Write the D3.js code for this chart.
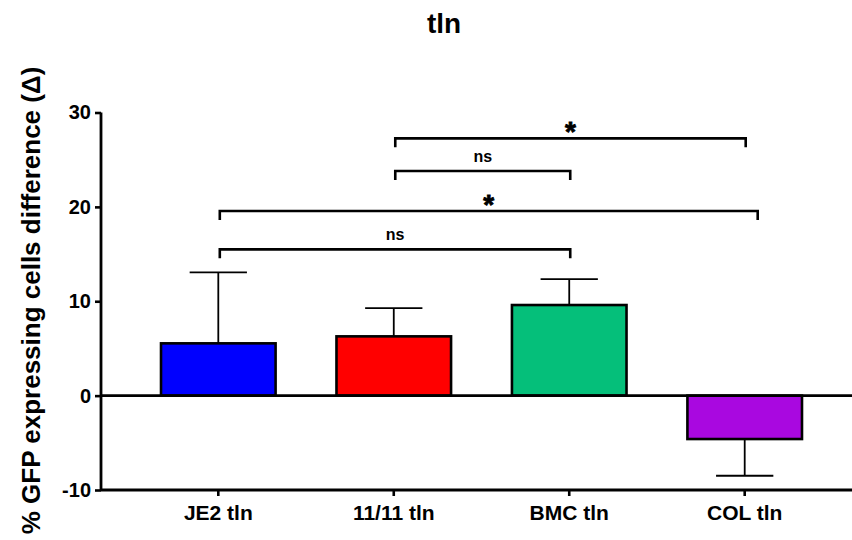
<!DOCTYPE html>
<html>
<head>
<meta charset="utf-8">
<script src="https://cdn.jsdelivr.net/npm/d3@7"></script>
<style>
  html, body { margin: 0; padding: 0; background: #fff; }
  svg { display: block; font-family: "Liberation Sans", Arial, sans-serif; }
</style>
</head>
<body>
<svg id="chart" width="852" height="540"></svg>
<script>
// Strains and their mean change in GFP-expressing cells, with SD
const categories = ["JE2 tln", "11/11 tln", "BMC tln", "COL tln"];
const means = [5.54, 6.28, 9.6, -4.6];
const errors = [7.52, 3.0, 2.75, 3.89];
const barColors = ["#0000ff", "#ff0000", "#05bf7a", "#a908e0"];
const yTicks = [-10, 0, 10, 20, 30];

// Pairwise comparisons: [first group, second group, bracket height (data units), label]
const comparisons = [
  ["11/11 tln", "COL tln", 27.26, "*"],
  ["11/11 tln", "BMC tln", 23.8, "ns"],
  ["JE2 tln", "COL tln", 19.56, "*"],
  ["JE2 tln", "BMC tln", 15.5, "ns"]
];
// extra reach of the right leg, in px, per bracket
const rightLegShift = [0, 0, 12, 0];

const svg = d3.select("#chart");
const W = 852, H = 540;
const plotLeft = 101, plotTop = 112.5, plotBottom = 490;

const y = d3.scaleLinear().domain([-10, 30]).range([plotBottom, plotTop]);
const x = d3.scaleBand()
  .domain(categories)
  .range([plotLeft, 862])
  .paddingInner(0.347)
  .paddingOuter(0.342);
const cx = d => x(d) + x.bandwidth() / 2;

// Title
svg.append("text")
  .attr("x", 444).attr("y", 33)
  .attr("text-anchor", "middle")
  .attr("font-size", 28).attr("font-weight", "bold")
  .text("tln");

// Y axis label
svg.append("text")
  .attr("transform", "translate(39.5, 300.5) rotate(-90)")
  .attr("text-anchor", "middle")
  .attr("font-size", 26).attr("font-weight", "bold")
  .text("% GFP expressing cells difference (Δ)");

// Bars
const g = svg.append("g");
g.selectAll("rect.bar")
  .data(categories)
  .join("rect")
  .attr("class", "bar")
  .attr("x", d => x(d))
  .attr("width", x.bandwidth())
  .attr("y", (d, i) => y(Math.max(0, means[i])))
  .attr("height", (d, i) => Math.abs(y(means[i]) - y(0)))
  .attr("fill", (d, i) => barColors[i])
  .attr("stroke", "#000")
  .attr("stroke-width", 2.6);

// Error bars (one-sided, away from zero)
const capHalf = x.bandwidth() / 4;
categories.forEach((c, i) => {
  const v = means[i];
  const end = v >= 0 ? v + errors[i] : v - errors[i];
  g.append("line")
    .attr("x1", cx(c)).attr("x2", cx(c))
    .attr("y1", y(v)).attr("y2", y(end))
    .attr("stroke", "#000").attr("stroke-width", 1.8);
  g.append("line")
    .attr("x1", cx(c) - capHalf).attr("x2", cx(c) + capHalf)
    .attr("y1", y(end)).attr("y2", y(end))
    .attr("stroke", "#000").attr("stroke-width", 1.8);
});

// Zero line
svg.append("line")
  .attr("x1", plotLeft).attr("x2", W)
  .attr("y1", y(0)).attr("y2", y(0))
  .attr("stroke", "#000").attr("stroke-width", 2.6);

// Y axis
const yAxis = svg.append("g")
  .attr("transform", `translate(${plotLeft},0)`)
  .call(d3.axisLeft(y).tickValues(yTicks).tickSize(6).tickPadding(4).tickFormat(d => String(d)));
yAxis.select(".domain").attr("stroke-width", 2.8).attr("d", `M0,${plotTop}V${plotBottom}`);
yAxis.selectAll(".tick line").attr("stroke-width", 2.6);
yAxis.selectAll(".tick text")
  .attr("font-size", 20).attr("font-weight", "bold")
  .attr("font-family", "'Liberation Sans', Arial, sans-serif")
  .attr("fill", "#000");

// X axis
const xAxis = svg.append("g")
  .attr("transform", `translate(0,${plotBottom})`)
  .call(d3.axisBottom(x).tickSize(6).tickPadding(9));
xAxis.select(".domain").attr("stroke-width", 2.8).attr("d", `M${plotLeft},0H${W}`);
xAxis.selectAll(".tick line").attr("stroke-width", 2.6);
xAxis.selectAll(".tick text")
  .attr("font-size", 21).attr("font-weight", "bold")
  .attr("font-family", "'Liberation Sans', Arial, sans-serif")
  .attr("fill", "#000");

// Significance brackets
const legLen = 9;
comparisons.forEach(([a, b, h, label], i) => {
  const x1 = cx(a) + 1.5, x2 = cx(b) + 1 + rightLegShift[i];
  const yy = y(h);
  svg.append("path")
    .attr("d", `M${x1},${yy + legLen}V${yy}H${x2}V${yy + legLen}`)
    .attr("fill", "none").attr("stroke", "#000").attr("stroke-width", 2.6);
  const isStar = label === "*";
  const t = svg.append("text")
    .attr("x", (x1 + x2) / 2)
    .attr("y", isStar ? yy + 2.5 : yy - 9)
    .attr("text-anchor", "middle")
    .attr("font-size", isStar ? 28 : 16)
    .attr("font-weight", "bold")
    .text(label);
  if (isStar) t.attr("stroke", "#000").attr("stroke-width", 0.8);
});
</script>
</body>
</html>
